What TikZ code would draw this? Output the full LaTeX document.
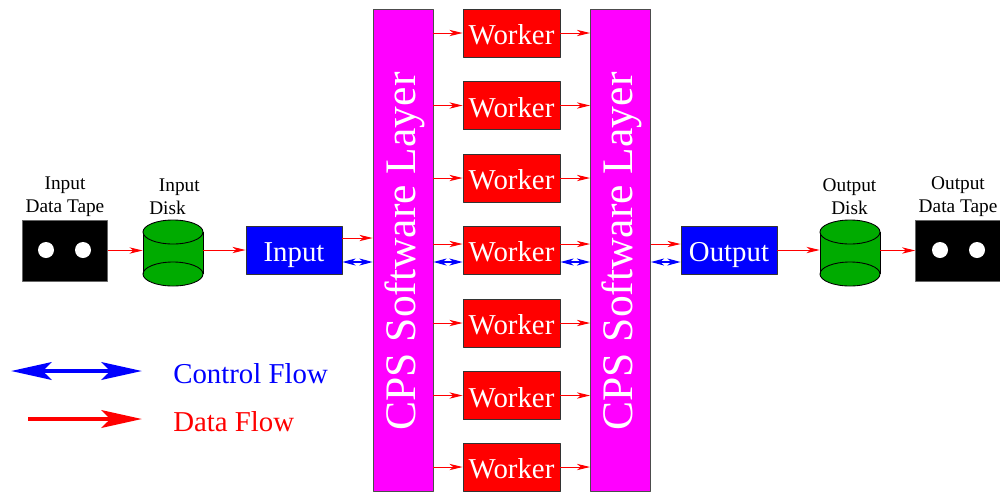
\documentclass[tikz,border=0pt]{standalone}
\usepackage{fontspec}
\setmainfont{Liberation Serif}
\usetikzlibrary{arrows.meta}
\definecolor{layercolor}{rgb}{1,0,1}
\definecolor{diskcolor}{rgb}{0,.67,0}
\tikzset{
  boxed/.style={draw=black!80, line width=.5pt, inner sep=0pt, text=white, text height=14pt, text depth=.4pt, font=\fontsize{16.4}{18}\selectfont},
  workerbox/.style={boxed, fill=red, minimum width=1.94cm, minimum height=.96cm},
  iobox/.style={boxed, fill=blue, minimum width=1.92cm, minimum height=.96cm},
  layerbox/.style={draw=black!70, line width=.5pt, fill=layercolor, minimum width=1.2cm, minimum height=9.64cm, inner sep=0pt},
  layertext/.style={rotate=90, text=white, inner sep=0pt, font=\fontsize{24.8}{28}\selectfont},
  tapebox/.style={fill=black, draw=black!60, line width=.3pt, minimum width=1.7cm, minimum height=1.22cm, inner sep=0pt},
  diskbox/.style={minimum width=1.2cm, minimum height=1.32cm, inner sep=0pt},
  caption/.style={align=center, inner sep=0pt, font=\fontsize{11}{13}\selectfont},
  legend/.style={anchor=west, inner sep=0pt, font=\fontsize{16.4}{18}\selectfont},
  dataflow/.style={red, line width=.55pt, -{Stealth[length=7.5pt, width=3.6pt, inset=2.2pt]}},
  ctrlflow/.style={blue, line width=.7pt, {Stealth[length=7.5pt, width=4pt, inset=2.2pt]}-{Stealth[length=7.5pt, width=4pt, inset=2.2pt]}},
  dataline/.style={red, line width=2.8pt, -{Stealth[length=23pt, width=10pt, inset=5pt]}},
  ctrlline/.style={blue, line width=2.8pt, {Stealth[length=23pt, width=10pt, inset=5pt]}-{Stealth[length=23pt, width=10pt, inset=5pt]}}
}
\begin{document}
\begin{tikzpicture}[x=.02cm, y=-.02cm, line join=round]
\useasboundingbox (0,0) rectangle (1000,491);
% software layers
\node[layerbox] (cpsleft) at (403,250) {};
\node[layerbox] (cpsright) at (620.5,250) {};
\node[layertext] (cpslefttext) at (404.5,251.5) {CPS Software Layer};
\node[layertext] (cpsrighttext) at (622,251.5) {CPS Software Layer};
% workers
\foreach \n/\y in {1/33,2/105.5,3/178,5/323,6/395.5,7/467} {
\node[workerbox] (worker\n) at (511.5,\y) {Worker};
\draw[dataflow] (cpsleft.east |- worker\n.west)--(worker\n.west);
\draw[dataflow] (worker\n.east)--(cpsright.west |- worker\n.east);
}
\node[workerbox] (worker4) at (511.5,250) {Worker};
\node[iobox] (input) at (294,250) {Input};
\node[iobox] (output) at (729,250) {Output};
% rows of the arrows at the middle
\coordinate (inrow) at (0,238);
\coordinate (datarow) at (0,244);
\coordinate (ctrlrow) at (0,262);
\draw[dataflow] (input.east |- inrow)--(cpsleft.west |- inrow);
\draw[ctrlflow] (input.east |- ctrlrow)--(cpsleft.west |- ctrlrow);
\draw[dataflow] (cpsleft.east |- datarow)--(worker4.west |- datarow);
\draw[ctrlflow] (cpsleft.east |- ctrlrow)--(worker4.west |- ctrlrow);
\draw[dataflow] (worker4.east |- datarow)--(cpsright.west |- datarow);
\draw[ctrlflow] (worker4.east |- ctrlrow)--(cpsright.west |- ctrlrow);
\draw[dataflow] (cpsright.east |- datarow)--(output.west |- datarow);
\draw[ctrlflow] (cpsright.east |- ctrlrow)--(output.west |- ctrlrow);
% tapes
\node[tapebox] (intape) at (65,250.5) {};
\node[tapebox] (outtape) at (958,250.5) {};
\foreach \x in {46,83,940,977}
\fill[white] (\x,250) circle (8);
% disks
\foreach \d/\x in {indisk/173,outdisk/850} {
\node[diskbox] (\d) at (\x,253) {};
\fill[diskcolor] (\x,274) ellipse (30 and 12);
\fill[diskcolor] (\x-30,232) rectangle (\x+30,274);
\draw[line width=.5pt] (\x-30,232)--(\x-30,274) (\x+30,232)--(\x+30,274);
\draw[line width=.5pt] (\x,274) ellipse (30 and 12);
\draw[line width=.5pt, fill=diskcolor] (\x,232) ellipse (30 and 12);
}
\draw[dataflow] (intape.east)--(indisk.west |- intape.east);
\draw[dataflow] (indisk.east |- input.west)--(input.west);
\draw[dataflow] (output.east)--(outdisk.west |- output.east);
\draw[dataflow] (outdisk.east |- outtape.west)--(outtape.west);
% captions
\node[caption] (intapetext) at (65,197) {Input\\Data Tape};
\node[caption, align=left] (indisktext) at (174.5,197) {\ \ Input\\Disk};
\node[caption] (outdisktext) at (849.5,197) {Output\\Disk};
\node[caption] (outtapetext) at (958,197) {Output\\Data Tape};
% legend
\coordinate (ctrlstart) at (11,371);
\coordinate (datastart) at (28,419);
\node[legend, text=blue] (ctrltext) at (173,374) {Control Flow};
\node[legend, text=red] (datatext) at (173,422) {Data Flow};
\coordinate (ctrlend) at (142,371);
\coordinate (dataend) at (142,419);
\draw[ctrlline] (ctrlstart)--(ctrlend);
\draw[dataline] (datastart)--(dataend);
\end{tikzpicture}
\end{document}
